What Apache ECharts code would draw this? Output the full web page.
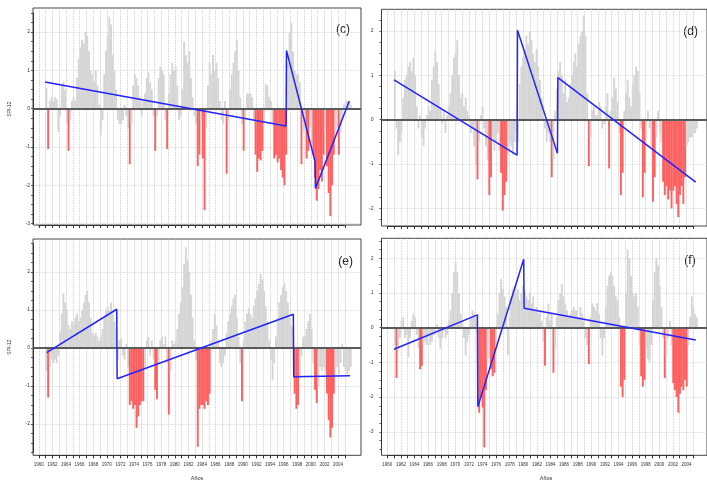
<!DOCTYPE html>
<html><head><meta charset="utf-8">
<script src="https://cdn.jsdelivr.net/npm/echarts@6/dist/echarts.min.js"></script>
<style>html,body{margin:0;padding:0;background:#fff}#chart{width:707px;height:483px}</style>
</head><body><div id="chart"></div>
<script>
// ---------- DATA (quarterly SPI-12, 1961-2005) ----------
const startYear = 1961;
const firstTickYear = 1960;
const lastTickYear = 2005;

const spiC = [
 0.55,-1.05,0.2,0.3,   0.2,0.3,0.25,-0.6,   -0.2,0.6,0.7,0.5,   -0.4,-1.1,-0.3,0.2,   0.3,0.2,0.8,1.3,
 1.6,1.8,1.7,2.0,      1.9,1.5,1.0,0.9,     0.7,1.0,0.6,0.1,    -0.7,-0.3,0.9,1.5,    1.9,2.4,2.2,1.4,
 1.0,0.5,-0.3,-0.4,    -0.4,-0.3,0.1,-0.2,  -0.5,-1.45,-0.4,0.6, 0.9,0.8,0.6,0.3,     -0.2,0.2,0.4,0.8,
 0.95,0.7,0.5,-0.2,    -1.1,-0.2,0.8,1.1,   1.0,0.9,-0.3,-1.05, 0.4,0.9,1.2,1.0,     1.1,0.6,-0.3,-0.2,
 0.5,1.75,1.4,1.2,     1.5,0.8,0.3,-0.2,    -0.4,-1.5,-1.2,-0.3, -1.3,-2.65,-0.5,0.6, 1.2,0.9,1.4,1.0,
 1.2,0.8,0.2,-0.3,     -0.4,0.2,-1.7,-0.3,  0.5,0.9,1.2,1.5,    1.8,1.0,0.3,-0.4,    -1.1,-0.3,0.4,0.4,
 0.4,0.3,-0.3,-1.2,    -1.65,-1.3,-1.35,-1.1, -0.3,0.65,0.6,0.3, 0.2,-0.4,-1.3,-1.2,  -1.4,-1.3,-1.6,-1.8,
 -2.0,-1.2,1.2,2.0,    2.25,1.5,1.0,0.9,    0.9,0.7,-1.45,-0.6, -0.5,-1.3,-1.1,-0.5, -0.9,-1.2,-1.8,-2.4,
 -2.1,-1.6,-1.9,-1.2,  -0.6,-1.5,-2.2,-2.8, -2.0,-1.2,-0.6,-0.5, -1.2,-0.6,-0.3,0.1,  0.2,0.2,0.15,0.1
];
const spiD = [
 1.1,-0.2,-0.8,-0.5,   -0.3,0.5,0.9,1.0,    1.2,1.3,1.1,1.4,    1.0,0.3,-0.2,0.1,    -0.4,-0.6,-0.2,0.1,
 0.3,0.2,0.9,1.2,      1.55,1.3,0.8,0.3,    -0.1,0.2,-0.3,0.1,  0.3,0.6,1.0,1.4,     1.5,1.8,1.0,0.5,
 0.6,0.3,0.5,0.2,      0.1,-0.3,-0.2,-0.6,  -1.0,-1.35,-0.5,0.1, 0.3,-0.2,-0.6,-0.9,  -1.7,-1.3,-0.4,-0.7,
 -0.5,-0.3,-0.7,-1.2,  -2.05,-1.7,-1.4,-0.8, -0.5,-0.6,-0.8,-0.5, -0.3,-0.5,0.8,1.2, 1.4,1.6,1.9,1.7,
 2.0,1.8,1.5,1.3,      1.6,1.2,0.9,0.5,     0.3,-0.2,-0.5,-0.3, -0.5,-1.3,-0.9,0.2,  0.7,1.1,1.3,1.0,
 0.6,0.9,0.4,0.5,      0.8,1.0,1.3,1.5,     1.2,1.7,1.9,2.0,    2.35,1.9,0.6,-1.05,  -0.4,0.2,0.3,0.1,
 0.1,0.4,0.3,-0.2,     -0.1,0.3,0.6,-1.1,   0.2,0.5,0.95,0.7,   0.4,-0.3,-1.7,-1.2,  0.2,0.6,0.9,0.5,
 0.3,0.8,1.0,1.2,      1.1,0.6,-0.2,-1.75,  -1.2,-0.4,0.2,-0.2, -0.6,-1.85,-1.3,-0.4, 0.2,-0.3,-0.5,-1.4,
 -1.7,-1.5,-1.8,-1.6,  -2.0,-1.6,-1.5,-1.9, -2.2,-1.7,-1.5,-1.9, -1.3,-0.6,-0.5,-0.4, -0.4,-0.3,-0.3,-0.2
];
const spiE = [
 -0.6,-1.3,-0.5,-0.3,  -0.4,-0.3,-0.4,-0.2, 0.4,0.9,1.45,1.2,   1.0,0.6,0.5,0.7,     0.6,0.8,0.9,0.7,
 0.8,1.0,1.2,1.4,      1.5,1.2,0.8,0.4,     0.3,0.4,0.3,0.2,    0.3,0.5,0.8,1.0,     1.1,1.0,1.2,0.9,
 0.7,0.5,-0.3,0.2,     0.25,-0.2,-0.3,0.1,  -0.5,-1.5,-1.4,-1.6, -1.5,-2.1,-1.8,-1.5, -1.4,-1.4,-0.5,0.2,
 0.3,-0.2,0.2,-0.3,    -1.1,-1.35,-0.4,0.2, 0.3,0.1,0.3,-0.4,   -1.75,-0.6,0.2,0.1,  0.2,0.5,0.9,1.2,
 1.6,2.2,2.65,2.3,     2.0,1.4,0.8,0.2,     -0.3,-2.6,-1.6,-1.5, -1.5,-1.6,-1.4,-1.5, -1.2,0.2,0.5,0.9,
 0.6,0.2,-0.4,-0.5,    -0.4,-0.2,0.4,0.7,   0.9,1.1,1.3,1.4,    0.8,0.3,-0.4,-1.4,   0.2,0.7,0.9,1.05,
 0.9,0.8,1.1,1.3,      1.5,1.7,1.95,1.8,    1.5,1.1,0.7,0.2,    -0.3,-0.85,-0.4,0.3, 0.8,1.2,1.4,1.6,
 1.7,1.5,1.2,0.8,      0.6,0.5,-1.2,-1.6,   -1.5,-0.8,-0.2,0.3, 0.3,0.5,0.7,0.9,     0.5,-0.4,-1.1,-1.45,
 -1.0,-0.5,-0.6,-0.5,  -0.6,-1.2,-1.9,-2.35, -2.1,-1.2,-0.6,-0.5, -0.7,-0.4,0.1,-0.5, -0.6,-0.7,-0.6,-0.5
];
const spiF = [
 -0.5,-1.45,-0.6,-0.3, 0.2,0.3,-0.3,-0.2,   -0.85,-0.3,0.2,0.4, 0.3,-0.2,-0.6,-1.2,  -1.1,-0.5,-0.4,-0.5,
 -0.3,-0.5,-0.4,-0.2,  -0.2,0.1,-0.3,-0.6,  -0.3,-0.1,-0.3,-0.2, 0.2,0.5,1.0,1.6,    1.9,1.6,1.0,0.4,
 0.2,-0.3,-0.8,-0.4,   -0.2,0.3,0.5,0.4,    0.3,-0.2,-2.45,-2.0, -2.3,-3.45,-1.8,-0.9, -0.9,-1.2,-1.4,-1.3,
 -0.5,0.4,1.0,1.4,     1.1,0.9,0.6,-0.8,    0.3,0.9,1.1,1.2,    1.0,1.1,0.8,1.0,     1.2,1.05,0.9,0.8,
 1.0,0.7,0.9,0.5,      0.6,0.4,0.5,0.2,     -0.4,-1.1,0.3,0.7,  0.2,0.4,-1.3,-0.6,   0.3,0.8,1.0,1.25,
 0.9,0.7,0.5,0.3,      0.4,0.5,0.6,0.5,     0.5,0.3,0.6,0.4,    0.2,-0.3,-0.5,-1.05, 0.3,0.7,0.6,0.5,
 0.7,0.4,-0.3,-0.8,    -0.3,0.6,1.2,1.5,    1.6,1.5,1.2,0.9,    0.8,0.3,-1.7,-2.0,   -1.5,1.0,2.25,2.0,
 1.5,1.0,0.9,1.0,      0.6,-0.5,-1.4,-1.7,  -1.5,-0.6,-0.9,-1.0, -0.5,0.8,1.6,2.0,   1.8,1.2,0.6,-0.3,
 -1.45,-0.8,-0.3,0.2,  -0.5,-1.6,-1.8,-2.0, -2.45,-1.9,-1.7,-1.8, -1.5,-1.7,-0.5,0.3, 0.9,0.6,0.4,0.3
];

// piecewise trend lines (year, SPI)
const trendC = [[1960.91,0.70],[1996.36,-0.45],[1996.42,1.52],[2000.62,-1.38],[2000.68,-2.08],[2005.66,0.20]];
const trendD = [[1961.00,0.90],[1979.24,-0.80],[1979.30,2.02],[1985.22,-0.76],[1985.28,0.95],[2005.71,-1.41]];
const trendE = [[1961.16,-0.12],[1971.46,1.02],[1971.52,-0.81],[1997.43,0.89],[1997.49,-0.755],[2005.77,-0.73]];
const trendF = [[1961.00,-0.62],[1973.36,0.37],[1973.42,-2.28],[1980.22,1.97],[1980.28,0.56],[2005.71,-0.355]];

const panelLabels = ['(c)', '(d)', '(e)', '(f)'];
const yTitle = 'SPI-12';
const xTitle = 'Años';
const droughtThreshold = -1;

// ---------- LAYOUT ----------
const X_MIN = 1959.15, X_MAX = 2007.38;
const RED = '#ff5f5f', GRAY = '#d5d5d5', BLUE = '#2323ff';
const FONT = 'Liberation Sans, Arial, sans-serif';

const panels = [
  {spi: spiC, trend: trendC, label: panelLabels[0], left: 33,    top: 8,     width: 328, height: 217,   zero: 108.7, unit: 38.3, xLab: false, lblMargin: 3, tag: [343, 30],   title: [10, 109]},
  {spi: spiD, trend: trendD, label: panelLabels[1], left: 381.5, top: 9.3,   width: 328, height: 216.7, zero: 119.7, unit: 44.3, xLab: false, lblMargin: 8, tag: [690.7, 31.7], title: null},
  {spi: spiE, trend: trendE, label: panelLabels[2], left: 33,    top: 239,   width: 328, height: 216.3, zero: 348,   unit: 38,   xLab: true,  lblMargin: 3, tag: [345.7, 262], title: [10, 347], xt: [197, 478]},
  {spi: spiF, trend: trendF, label: panelLabels[3], left: 381.5, top: 238.3, width: 328, height: 217,   zero: 327.7, unit: 34.7, xLab: true,  lblMargin: 8, tag: [690, 261],   title: null, xt: [546, 478]}
];

const grid = [], xAxis = [], yAxis = [], series = [], graphic = [];
const hidden = {show: false};

panels.forEach((p, i) => {
  const ppy = p.width / (X_MAX - X_MIN);
  const ymax = (p.zero - p.top) / p.unit;
  const ymin = (p.zero - (p.top + p.height)) / p.unit;
  const g0 = grid.length;

  // 0: data grid + frame
  grid.push({left: p.left, top: p.top, width: p.width, height: p.height, show: true,
             borderColor: '#444', borderWidth: 1, backgroundColor: 'transparent'});
  xAxis.push({gridIndex: g0, type: 'value', min: X_MIN, max: X_MAX, show: false});
  yAxis.push({gridIndex: g0, type: 'value', min: ymin, max: ymax, show: false});

  // 1: year ticks / vertical grid lines
  const xl = p.left + (firstTickYear - X_MIN) * ppy;
  grid.push({left: xl, top: p.top, width: (lastTickYear - firstTickYear) * ppy, height: p.height});
  xAxis.push({gridIndex: g0 + 1, type: 'value', min: firstTickYear, max: lastTickYear, interval: 1,
    axisLine: {show: true, onZero: false, lineStyle: {color: '#333', width: 1}},
    axisTick: {show: true, length: 3, lineStyle: {color: '#333', width: 1}},
    axisLabel: {show: p.xLab, fontSize: 4.5, color: '#333', margin: 6.5, fontFamily: FONT,
                formatter: v => (Math.round(v) % 2 === 0 ? String(Math.round(v)) : '')},
    splitLine: {show: true, lineStyle: {color: '#bdbdbd', type: 'dotted', width: 0.8}}});
  yAxis.push({gridIndex: g0 + 1, type: 'value', min: 0, max: 1, show: false});

  // 2: integer labels + horizontal grid lines
  const labMin = Math.ceil(ymin), labMax = Math.floor(ymax);
  grid.push({left: p.left, top: p.zero - labMax * p.unit, width: p.width, height: (labMax - labMin) * p.unit});
  xAxis.push({gridIndex: g0 + 2, type: 'value', min: 0, max: 1, show: false});
  yAxis.push({gridIndex: g0 + 2, type: 'value', min: labMin, max: labMax, interval: 1,
    axisLine: hidden, axisTick: hidden,
    axisLabel: {show: true, fontSize: 5, color: '#333', margin: p.lblMargin, fontFamily: FONT},
    splitLine: {show: true, lineStyle: {color: '#d2d2d2', type: 'dotted', width: 0.8}}});

  // 3: quarter-unit ticks
  const tMin = Math.ceil(ymin * 4) / 4, tMax = Math.floor(ymax * 4) / 4;
  grid.push({left: p.left, top: p.zero - tMax * p.unit, width: p.width, height: (tMax - tMin) * p.unit});
  xAxis.push({gridIndex: g0 + 3, type: 'value', min: 0, max: 1, show: false});
  yAxis.push({gridIndex: g0 + 3, type: 'value', min: tMin, max: tMax, interval: 0.25,
    axisLine: {show: true, onZero: false, lineStyle: {color: '#333', width: 1}},
    axisTick: {show: true, length: 2, lineStyle: {color: '#333', width: 0.8}},
    axisLabel: hidden, splitLine: hidden});

  // bars
  series.push({type: 'bar', xAxisIndex: g0, yAxisIndex: g0, silent: true, barWidth: ppy / 4 + 0.2,
    data: p.spi.map((v, k) => [startYear + (k + 0.5) / 4, v]),
    itemStyle: {color: prm => (prm.value[1] < droughtThreshold ? RED : GRAY)},
    markLine: {silent: true, symbol: 'none', label: {show: false},
      lineStyle: {color: '#5a5a5a', width: 1.8, type: 'solid'}, data: [{yAxis: 0}]},
    z: 2});
  // trend
  series.push({type: 'line', xAxisIndex: g0, yAxisIndex: g0, silent: true, symbol: 'none',
    data: p.trend, lineStyle: {color: BLUE, width: 1.5}, z: 5});

  graphic.push({type: 'text', left: p.tag[0], top: p.tag[1],
    style: {text: p.label, fontSize: 12, fill: '#222', fontFamily: FONT, align: 'center', verticalAlign: 'middle'}});
  if (p.title) {
    graphic.push({type: 'text', x: p.title[0], y: p.title[1], rotation: Math.PI / 2,
      style: {text: yTitle, fontSize: 5, fill: '#333', fontFamily: FONT, align: 'center', verticalAlign: 'middle'}});
  }
  if (p.xt) {
    graphic.push({type: 'text', x: p.xt[0], y: p.xt[1],
      style: {text: xTitle, fontSize: 5.5, fill: '#333', fontFamily: FONT, align: 'center', verticalAlign: 'middle'}});
  }
});

// convert tag positions to x/y with centering
graphic.forEach(g => { if (g.left !== undefined) { g.x = g.left; g.y = g.top; delete g.left; delete g.top; } });

const chart = echarts.init(document.getElementById('chart'), null, {renderer: 'canvas'});
chart.setOption({animation: false, backgroundColor: '#fff', grid, xAxis, yAxis, series, graphic});
</script>
</body></html>
